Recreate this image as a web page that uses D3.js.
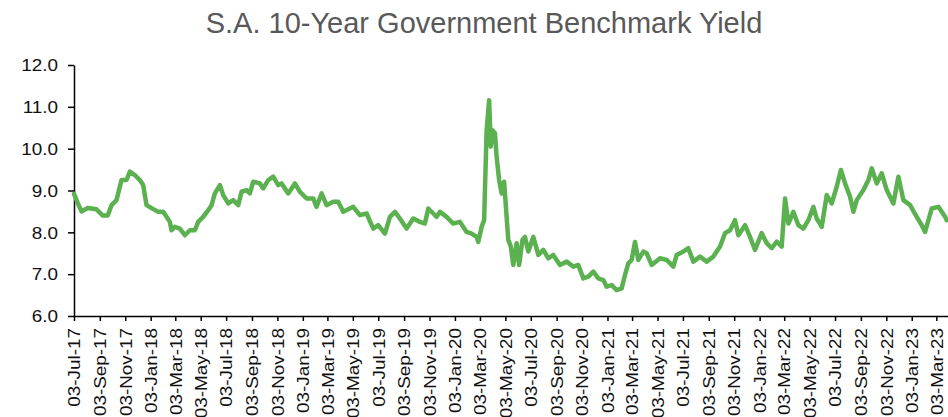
<!DOCTYPE html>
<html lang="en">
<head>
	<meta charset="utf-8">
	<title>S.A. 10-Year Government Benchmark Yield</title>
	<script src="https://cdn.jsdelivr.net/npm/d3@7"></script>
	<style>
		body { margin: 0; background: #fff; }
		.axis path, .axis line { stroke: #000; stroke-width: 1.5; }
		.axis text { font-family: "Liberation Sans", Arial, sans-serif; font-size: 16px; fill: #111; }
	</style>
</head>
<body>
<div id="chart"></div>
<script type="text/javascript">

	var obsDates = [
		"2017-07-03","2017-07-12","2017-07-21","2017-08-05","2017-08-26","2017-09-10","2017-09-22","2017-10-01",
		"2017-10-13","2017-10-25","2017-11-06","2017-11-14","2017-11-26","2017-12-08","2017-12-16","2017-12-24",
		"2018-01-05","2018-01-21","2018-02-02","2018-02-10","2018-02-18","2018-02-22","2018-03-02","2018-03-14",
		"2018-03-26","2018-04-07","2018-04-19","2018-04-27","2018-05-09","2018-05-21","2018-05-29","2018-06-06",
		"2018-06-18","2018-06-26","2018-07-08","2018-07-20","2018-08-01","2018-08-09","2018-08-21","2018-08-29",
		"2018-09-06","2018-09-22","2018-09-30","2018-10-12","2018-10-24","2018-11-05","2018-11-13","2018-11-29",
		"2018-12-15","2018-12-27","2019-01-12","2019-01-28","2019-02-05","2019-02-17","2019-03-01","2019-03-17",
		"2019-03-29","2019-04-10","2019-05-04","2019-05-20","2019-06-05","2019-06-21","2019-07-03","2019-07-19",
		"2019-07-31","2019-08-12","2019-08-24","2019-09-09","2019-09-25","2019-10-11","2019-10-23","2019-10-31",
		"2019-11-12","2019-11-20","2019-11-28","2019-12-14","2019-12-30","2020-01-15","2020-01-31","2020-02-12",
		"2020-02-24","2020-02-28","2020-03-07","2020-03-13","2020-03-19","2020-03-25","2020-03-29","2020-04-02",
		"2020-04-08","2020-04-12","2020-04-18","2020-04-24","2020-04-30","2020-05-06","2020-05-10","2020-05-16",
		"2020-05-22","2020-05-30","2020-06-05","2020-06-13","2020-06-19","2020-06-27","2020-07-09","2020-07-21",
		"2020-08-02","2020-08-14","2020-08-26","2020-09-11","2020-09-27","2020-10-13","2020-10-25","2020-11-06",
		"2020-11-18","2020-11-30","2020-12-12","2020-12-24","2021-01-01","2021-01-13","2021-01-25","2021-02-06",
		"2021-02-14","2021-02-22","2021-03-02","2021-03-10","2021-03-18","2021-03-30","2021-04-07","2021-04-19",
		"2021-05-09","2021-05-25","2021-06-10","2021-06-18","2021-07-04","2021-07-16","2021-07-28","2021-08-13",
		"2021-08-29","2021-09-14","2021-09-30","2021-10-12","2021-10-24","2021-11-05","2021-11-13","2021-11-29",
		"2021-12-11","2021-12-23","2022-01-08","2022-01-20","2022-02-01","2022-02-13","2022-02-25","2022-03-05",
		"2022-03-13","2022-03-25","2022-04-06","2022-04-18","2022-04-30","2022-05-12","2022-05-20","2022-06-01",
		"2022-06-13","2022-06-25","2022-07-07","2022-07-17","2022-07-27","2022-08-08","2022-08-16","2022-08-24",
		"2022-09-09","2022-09-21","2022-09-29","2022-10-11","2022-10-23","2022-11-04","2022-11-20","2022-12-02",
		"2022-12-14","2022-12-30","2023-01-15","2023-01-27","2023-02-04","2023-02-20","2023-03-08","2023-03-24",
		"2023-03-28"
	];
	var yields = [
		8.92, 8.70, 8.50, 8.58, 8.55, 8.40, 8.40, 8.65,
		8.77, 9.25, 9.25, 9.45, 9.37, 9.25, 9.13, 8.65,
		8.58, 8.49, 8.49, 8.37, 8.25, 8.05, 8.13, 8.09,
		7.93, 8.05, 8.05, 8.25, 8.37, 8.53, 8.65, 8.93,
		9.13, 8.89, 8.69, 8.77, 8.65, 8.97, 9.01, 8.93,
		9.21, 9.17, 9.05, 9.25, 9.33, 9.13, 9.17, 8.93,
		9.17, 8.97, 8.81, 8.81, 8.61, 8.93, 8.65, 8.73,
		8.73, 8.49, 8.61, 8.41, 8.45, 8.09, 8.17, 7.97,
		8.37, 8.49, 8.33, 8.09, 8.33, 8.25, 8.21, 8.57,
		8.45, 8.37, 8.49, 8.37, 8.21, 8.25, 8.01, 7.97,
		7.89, 7.77, 8.13, 8.29, 10.44, 11.16, 10.05, 10.44,
		10.37, 9.81, 9.25, 8.93, 9.21, 8.37, 7.82, 7.66,
		7.22, 7.74, 7.22, 7.82, 7.89, 7.54, 7.89, 7.46,
		7.58, 7.38, 7.46, 7.22, 7.30, 7.18, 7.22, 6.90,
		6.94, 7.06, 6.90, 6.86, 6.70, 6.74, 6.62, 6.66,
		6.98, 7.26, 7.34, 7.77, 7.34, 7.54, 7.50, 7.22,
		7.38, 7.34, 7.18, 7.46, 7.54, 7.62, 7.30, 7.42,
		7.30, 7.42, 7.66, 7.98, 8.05, 8.29, 7.93, 8.17,
		7.89, 7.58, 7.98, 7.74, 7.62, 7.78, 7.66, 8.81,
		8.21, 8.49, 8.17, 8.09, 8.29, 8.61, 8.33, 8.13,
		8.89, 8.69, 9.09, 9.49, 9.17, 8.85, 8.49, 8.77,
		9.01, 9.25, 9.53, 9.17, 9.41, 9.01, 8.69, 9.33,
		8.77, 8.65, 8.37, 8.17, 8.01, 8.57, 8.61, 8.37,
		8.29
	];

	var yTicks = [6, 7, 8, 9, 10, 11, 12];
	var axisStart = "2017-07-03";
	var axisEnd = "2023-03-31";

	var parseDate = d3.timeParse("%Y-%m-%d");
	var dataset = obsDates.map(function(d, i) { return { date: parseDate(d), value: yields[i] }; });

	// sizes
	var outer_width = 948;
	var outer_height = 417;
	var margin = {top: 65, right: 0, bottom: 101, left: 74};
	var svg_width = outer_width - margin.left - margin.right;
	var svg_height = outer_height - margin.top - margin.bottom;
	var stretch = 1.18; // Excel labels are drawn a bit wide

	var root = d3.select("#chart")
		.append("svg")
		.attr("width", outer_width)
		.attr("height", outer_height);

	// title
	root.append("text")
		.attr("x", 484)
		.attr("y", 33)
		.attr("text-anchor", "middle")
		.style("font-family", "'Liberation Sans', Arial, sans-serif")
		.style("font-size", "29px")
		.style("fill", "#595959")
		.text("S.A. 10-Year Government Benchmark Yield");

	var svg = root.append("g")
		.attr("transform", "translate(" + margin.left + "," + margin.top + ")");

	var xScale = d3.scaleTime()
		.domain([parseDate(axisStart), parseDate(axisEnd)])
		.range([0, svg_width]);

	var yScale = d3.scaleLinear()
		.domain([6, 12])
		.range([svg_height, 0]);

	// ticks every two months on the 3rd
	var tickDates = d3.timeMonth.every(2)
		.range(d3.timeMonth.floor(parseDate(axisStart)), parseDate(axisEnd))
		.map(function(d) { return d3.timeDay.offset(d, 2); });

	var xAxis = d3.axisBottom(xScale)
		.tickValues(tickDates)
		.tickFormat(d3.timeFormat("%d-%b-%y"))
		.tickSize(5)
		.tickSizeOuter(0);

	var yAxis = d3.axisLeft(yScale)
		.tickValues(yTicks)
		.tickFormat(d3.format(".1f"))
		.tickSize(6)
		.tickSizeOuter(0);

	svg.append("g")
		.attr("class", "axis")
		.call(yAxis)
		.selectAll("text")
			.attr("x", -16 / stretch)
			.attr("dy", "0.36em")
			.attr("transform", "scale(" + stretch + ",1)");

	svg.append("g")
		.attr("class", "axis")
		.attr("transform", "translate(0," + svg_height + ")")
		.call(xAxis)
		.selectAll("text")
			.attr("text-anchor", "end")
			.attr("x", -12 / stretch)
			.attr("y", 0)
			.attr("dy", "0.36em")
			.attr("transform", "rotate(-90) scale(" + stretch + ",1)");

	svg.selectAll(".domain").attr("stroke", "#000");

	// the yield line
	var line = d3.line()
		.x(function(d) { return xScale(d.date); })
		.y(function(d) { return yScale(d.value); });

	svg.append("path")
		.datum(dataset)
		.attr("fill", "none")
		.attr("stroke", "#5BB04F")
		.attr("stroke-width", 4.5)
		.attr("stroke-linejoin", "round")
		.attr("stroke-linecap", "round")
		.attr("d", line);

</script>
</body>
</html>
